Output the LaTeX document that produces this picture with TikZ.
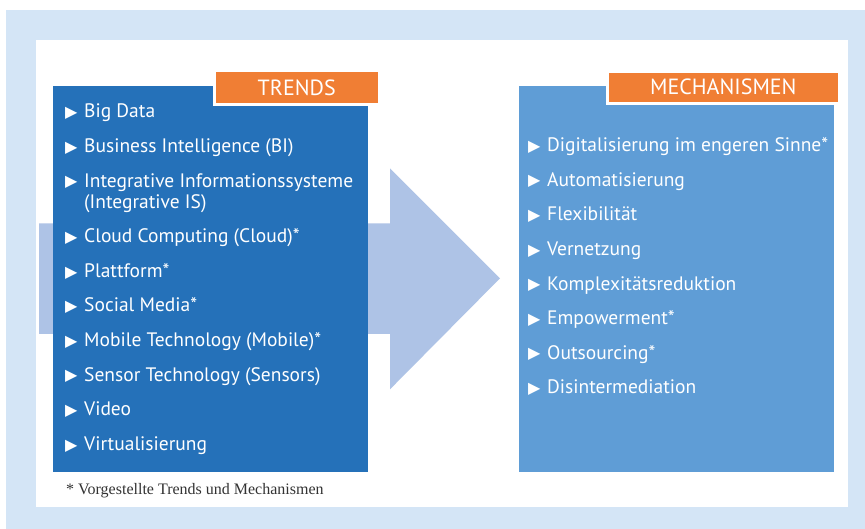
\documentclass[tikz,border=0pt]{standalone}
\usepackage{fontspec}
\setmainfont{Liberation Serif}
\setsansfont{PT Sans}
\newfontfamily\symfont{DejaVu Sans}
\usetikzlibrary{positioning}
\definecolor{framebg}{HTML}{D4E5F6}
\definecolor{trendblue}{HTML}{2571B9}
\definecolor{mechblue}{HTML}{5F9DD6}
\definecolor{tagorange}{HTML}{F07E34}
\definecolor{arrowblue}{HTML}{AEC3E6}
\definecolor{notegray}{HTML}{333333}
\newcommand{\itemtri}{\makebox[19pt][l]{\raisebox{0.3pt}{\symfont\fontsize{16}{16}\selectfont ▶}}}
\tikzset{
  panel/.style={rectangle, inner sep=0pt, anchor=north west},
  tagbox/.style={
    fill=tagorange,
    draw=white,
    line width=3pt,
    text=white,
    inner sep=0pt,
    anchor=north west,
    font=\sffamily\fontsize{22}{22}\selectfont
  },
  listitem/.style={
    anchor=base west,
    inner sep=0pt,
    text=white,
    align=left,
    font=\sffamily\fontsize{19.5}{21}\selectfont
  }
}
\begin{document}
\begin{tikzpicture}[x=1pt,y=-1pt]
  \useasboundingbox (0,0) rectangle (865,529);
  % frame
  \fill[framebg] (6,10) rectangle (865,529);
  \fill[white] (36,40) rectangle (848,507);

  % big arrow behind the panels
  \fill[arrowblue] (39,223.3) -- (390,223.3) -- (390,168.3) -- (500,278.3)
    -- (390,389.3) -- (390,334) -- (39,334) -- cycle;

  \node[panel,fill=trendblue,minimum width=315pt,minimum height=386pt] (trends) at (53,86) {};
  \node[panel,fill=mechblue,minimum width=315pt,minimum height=386pt] (mechs) at (519,86) {};

  \node[tagbox,minimum width=165pt,minimum height=33.4pt] (trendtag) at (212.7,69.3) {TRENDS};
  \node[tagbox,minimum width=231.7pt,minimum height=32pt] (mechtag) at (606,69.7) {MECHANISMEN};

  % base = baseline of the last line, hence 208.2 for the two-line entry
  \foreach \y/\txt [count=\i] in {
      118/Big Data,
      152.6/Business Intelligence (BI),
      208.2/Integrative Informationssysteme\\\hspace*{19pt}(Integrative IS),
      242.8/Cloud Computing (Cloud)*,
      277.4/Plattform*,
      312/Social Media*,
      346.6/Mobile Technology (Mobile)*,
      381.2/Sensor Technology (Sensors),
      415.8/Video,
      450.4/Virtualisierung}
    \node[listitem] (trend\i) at (65,\y) {\itemtri\txt};

  \foreach \y/\txt [count=\i] in {
      151.7/Digitalisierung im engeren Sinne*,
      186.3/Automatisierung,
      220.9/Flexibilität,
      255.5/Vernetzung,
      290.1/Komplexitätsreduktion,
      324.7/Empowerment*,
      359.3/Outsourcing*,
      393.9/Disintermediation}
    \node[listitem] (mech\i) at (528,\y) {\itemtri\txt};

  \node[anchor=base west,inner sep=0pt,text=notegray,font=\fontsize{16}{16}\selectfont]
    (note) at (66,494) {* Vorgestellte Trends und Mechanismen};
\end{tikzpicture}
\end{document}
